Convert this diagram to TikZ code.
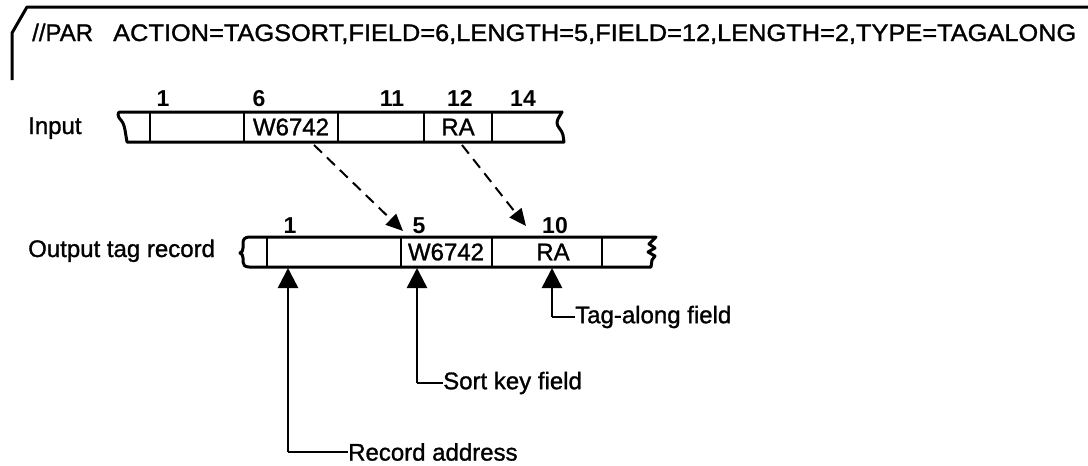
\documentclass[tikz,border=0pt]{standalone}
\usepackage{fontspec}
\setmainfont{Liberation Sans}
\newfontfamily\medsans[FakeBold=1.2]{Liberation Sans}
\usepackage{graphicx}
\usetikzlibrary{arrows.meta}
\tikzset{
  lbl/.style={font=\medsans\fontsize{24}{28}\selectfont, inner sep=0pt},
  num/.style={font=\fontsize{23}{26}\selectfont\bfseries, inner sep=0pt, anchor=base},
  cell/.style={font=\medsans\fontsize{24}{28}\selectfont, inner sep=0pt},
  recline/.style={line width=3pt, line join=round, line cap=round},
  divline/.style={line width=2pt},
  dasharrow/.style={line width=2pt, dash pattern=on 11pt off 7pt, -{Triangle[length=17pt,width=15pt]}},
  uparrow/.style={line width=2.5pt, -{Triangle[length=20pt,width=20pt]}},
  leader/.style={line width=1.6pt}
}
\begin{document}
\begin{tikzpicture}[x=1pt,y=-1pt]
\useasboundingbox (0,0) rectangle (1088,466);
% header card corner
\draw[line width=3pt, line join=round] (12,80) -- (12,33) -- (27,7) -- (1088,7);
\node[lbl, anchor=base west] (par) at (32,41) {//PAR};
\node[lbl, anchor=base west] (cmd) at (113,41) {\resizebox{963pt}{\height}{ACTION=TAGSORT,FIELD=6,LENGTH=5,FIELD=12,LENGTH=2,TYPE=TAGALONG}};

% Input record
\node[lbl, anchor=base west] (inlbl) at (28,134) {Input};
\draw[recline] (562,112) -- (120,112) .. controls (117,112) and (118,117) .. (120,119)
  .. controls (123,122) and (124,125) .. (125,130) -- (127,142) -- (564,142)
  -- (563,135) .. controls (562,130) and (557,127) .. (557,123) .. controls (557,119) and (560,116) .. (562,112);
\foreach \x in {150,244,338,424,492} \draw[divline] (\x,112) -- (\x,142);
\node[num] (n1) at (163,106) {1};
\node[num] (n6) at (259,106) {6};
\node[num] (n11) at (392,106) {11};
\node[num] (n12) at (460,106) {12};
\node[num] (n14) at (523,106) {14};
\node[cell] (iW) at (291,127) {W6742};
\node[cell] (iR) at (458,127) {RA};

% Output record
\node[lbl, anchor=base west] (outlbl) at (28,257) {Output tag record};
\draw[recline] (652,237) -- (250,237) .. controls (245,237) and (243,239) .. (243,243)
  -- (243,248) .. controls (243,251) and (242,252) .. (240,253)
  .. controls (242,254) and (243,255) .. (243,258) -- (243,262)
  .. controls (243,265) and (245,267) .. (249,267) -- (651,267)
  -- (652,260) -- (655,256) -- (648,252) -- (655,248) -- (649,244) -- (656,237) -- cycle;
\foreach \x in {267,401,492,602} \draw[divline] (\x,237) -- (\x,267);
\node[num] (o1) at (290,233) {1};
\node[num] (o5) at (419,233) {5};
\node[num] (o10) at (555,233) {10};
\node[cell] (oW) at (446,252) {W6742};
\node[cell] (oR) at (553,252) {RA};

% dashed mapping arrows
\coordinate (s1) at (314,145);
\coordinate (t1) at (403,231);
\coordinate (s2) at (462,145);
\coordinate (t2) at (526,226);
\draw[dasharrow] (s1) -- (t1);
\draw[dasharrow] (s2) -- (t2);

% pointer arrows
\node[lbl, anchor=west] (ra) at (348,452) {Record address};
\node[lbl, anchor=west] (sk) at (443,383) {Sort key field};
\node[lbl, anchor=west] (ta) at (575,317) {Tag-along field};
\coordinate (p1) at (288,268);
\coordinate (p2) at (417,268);
\coordinate (p3) at (552,268);
\draw[uparrow] (288,452) -- (p1);
\draw[uparrow] (417,383) -- (p2);
\draw[uparrow] (552,317) -- (p3);
\draw[leader] (288,452) -- (ra.west);
\draw[leader] (417,383) -- (sk.west);
\draw[leader] (552,317) -- (ta.west);
\end{tikzpicture}
\end{document}
